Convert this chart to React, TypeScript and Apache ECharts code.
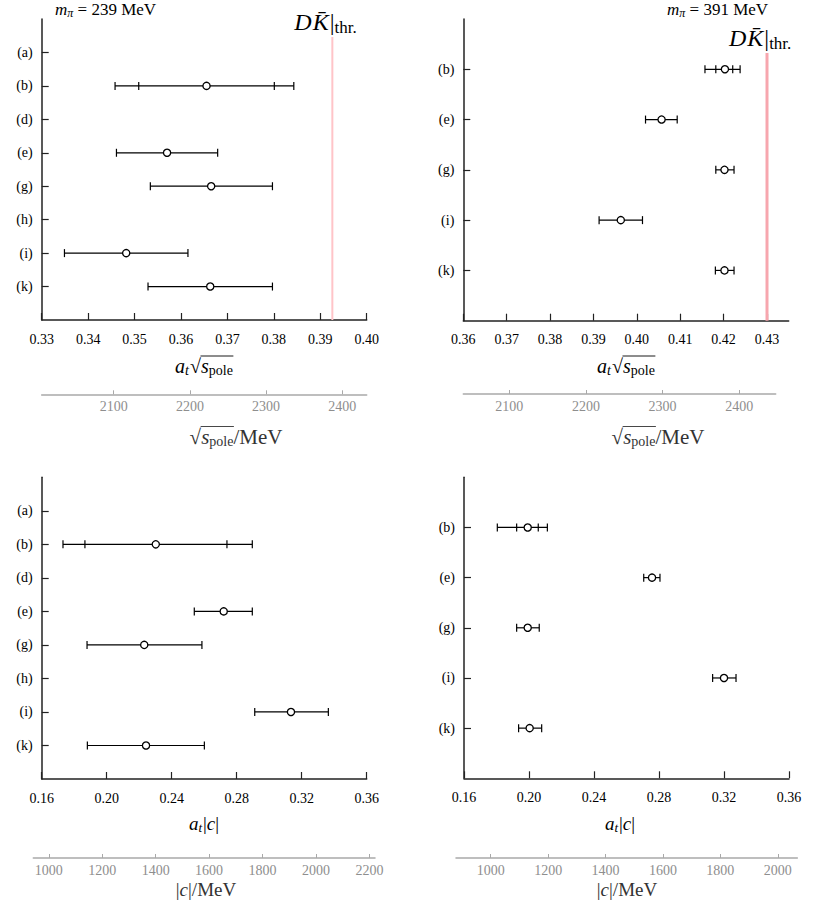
import React, { useEffect, useRef } from 'react';
import * as echarts from 'echarts';

const SERIF = 'Liberation Serif, Times New Roman, serif';

// ---------- categories ----------
const catsL = ['(a)', '(b)', '(d)', '(e)', '(g)', '(h)', '(i)', '(k)'];
const catsR = ['(b)', '(e)', '(g)', '(i)', '(k)'];

// ---------- a_t sqrt(s_pole), m_pi = 239 MeV ----------
const sLab239 = ['(b)', '(e)', '(g)', '(i)', '(k)'];
const sCen239 = [0.3655, 0.357, 0.3665, 0.3482, 0.3663];
const sLo239 = [0.3458, 0.3461, 0.3534, 0.3349, 0.3529];
const sHi239 = [0.3843, 0.3679, 0.3797, 0.3615, 0.3797];
const sStatLab239 = ['(b)'];
const sStatLo239 = [0.3509];
const sStatHi239 = [0.3801];
const thr239 = 0.3926;

// ---------- a_t sqrt(s_pole), m_pi = 391 MeV ----------
const sLab391 = ['(b)', '(e)', '(g)', '(i)', '(k)'];
const sCen391 = [0.4203, 0.4057, 0.4202, 0.3963, 0.4202];
const sLo391 = [0.4157, 0.402, 0.4182, 0.3913, 0.4181];
const sHi391 = [0.4238, 0.4093, 0.4224, 0.4013, 0.4224];
const sStatLab391 = ['(b)'];
const sStatLo391 = [0.4182];
const sStatHi391 = [0.4221];
const thr391 = 0.43;

// ---------- a_t |c|, m_pi = 239 MeV ----------
const cLab239 = ['(b)', '(e)', '(g)', '(i)', '(k)'];
const cCen239 = [0.2302, 0.272, 0.2231, 0.3134, 0.2242];
const cLo239 = [0.1731, 0.2539, 0.1879, 0.2911, 0.1881];
const cHi239 = [0.2896, 0.2896, 0.2586, 0.3364, 0.2601];
const cStatLab239 = ['(b)'];
const cStatLo239 = [0.1866];
const cStatHi239 = [0.274];

// ---------- a_t |c|, m_pi = 391 MeV ----------
const cLab391 = ['(b)', '(e)', '(g)', '(i)', '(k)'];
const cCen391 = [0.1992, 0.2757, 0.1992, 0.32, 0.2004];
const cLo391 = [0.1805, 0.2706, 0.1924, 0.313, 0.1936];
const cHi391 = [0.2113, 0.2806, 0.2063, 0.3274, 0.2078];
const cStatLab391 = ['(b)'];
const cStatLo391 = [0.1924];
const cStatHi391 = [0.2057];

// ---------- axis ticks / ranges ----------
const ticksS239 = [0.33, 0.34, 0.35, 0.36, 0.37, 0.38, 0.39, 0.4];
const ticksS391 = [0.36, 0.37, 0.38, 0.39, 0.4, 0.41, 0.42, 0.43];
const ticksC = [0.16, 0.2, 0.24, 0.28, 0.32, 0.36];
const rangeS239: [number, number] = [0.33, 0.4];
const rangeS391: [number, number] = [0.36, 0.435];
const rangeC: [number, number] = [0.16, 0.36];

const ticksMeVS = [2100, 2200, 2300, 2400];
const ticksMeVC239 = [1000, 1200, 1400, 1600, 1800, 2000, 2200];
const ticksMeVC391 = [1000, 1200, 1400, 1600, 1800, 2000];
const rangeMeVS239: [number, number] = [2005.5, 2432];
const rangeMeVS391: [number, number] = [2040, 2447.5];
const rangeMeVC239: [number, number] = [942, 2221];
const rangeMeVC391: [number, number] = [879, 2068];

// ---------- text measuring / math-like text ----------
let measureCtx: CanvasRenderingContext2D | null = null;
function fontStr(size: number, italic?: boolean) {
  return `${italic ? 'italic ' : ''}${size}px ${SERIF}`;
}
function measure(t: string, size: number, italic?: boolean) {
  if (!measureCtx) measureCtx = document.createElement('canvas').getContext('2d');
  if (!measureCtx) return t.length * size * 0.5;
  measureCtx.font = fontStr(size, italic);
  return measureCtx.measureText(t).width;
}
type Part = { t: string; s: number; i?: boolean; dy?: number; dx?: number; over?: boolean };
function mathEls(parts: Part[], x: number, y: number, align: 'left' | 'center', color: string, overDy = -9) {
  const widths = parts.map((p) => measure(p.t, p.s, p.i) + (p.dx || 0));
  const total = widths.reduce((a, b) => a + b, 0);
  let cur = align === 'center' ? x - total / 2 : x;
  const els: any[] = [];
  let o0: number | null = null;
  let o1 = 0;
  parts.forEach((p, k) => {
    const px = cur + (p.dx || 0);
    els.push({
      type: 'text',
      x: px,
      y: y + (p.dy || 0),
      silent: true,
      style: {
        text: p.t,
        fontSize: p.s,
        fontStyle: p.i ? 'italic' : 'normal',
        fontFamily: SERIF,
        fill: color,
        align: 'left',
        textAlign: 'left',
        verticalAlign: 'middle',
        textVerticalAlign: 'middle',
      },
    });
    if (p.over) {
      if (o0 === null) o0 = px - 0.5;
      o1 = cur + widths[k] + 0.5;
    }
    cur += widths[k];
  });
  if (o0 !== null) {
    els.push({
      type: 'line',
      silent: true,
      shape: { x1: o0, y1: y + overDy, x2: o1, y2: y + overDy },
      style: { stroke: color, lineWidth: 0.9 },
    });
  }
  return els;
}

const partsAtSqrtS: Part[] = [
  { t: 'a', s: 20, i: true },
  { t: 't', s: 14, i: true, dy: 4 },
  { t: '√', s: 20, dx: 1 },
  { t: 's', s: 20, i: true, over: true },
  { t: 'pole', s: 14, dy: 4, over: true },
];
const partsSqrtSMeV: Part[] = [
  { t: '√', s: 21 },
  { t: 's', s: 21, i: true, over: true },
  { t: 'pole', s: 14, dy: 4, over: true },
  { t: '/MeV', s: 21 },
];
const partsAtC: Part[] = [
  { t: 'a', s: 19, i: true },
  { t: 't', s: 13, i: true, dy: 4 },
  { t: '|', s: 19, dx: 1 },
  { t: 'c', s: 19, i: true },
  { t: '|', s: 19 },
];
const partsCMeV: Part[] = [
  { t: '|', s: 19 },
  { t: 'c', s: 19, i: true },
  { t: '|/MeV', s: 19 },
];
const partsMpi = (v: string): Part[] => [
  { t: 'm', s: 17, i: true },
  { t: 'π', s: 12, i: true, dy: 4 },
  { t: ` = ${v} MeV`, s: 17 },
];
const partsDK: Part[] = [
  { t: 'D', s: 24, i: true },
  { t: 'K\u0304', s: 24, i: true, dx: 1 },
  { t: '|', s: 24, dx: 1 },
  { t: 'thr.', s: 17, dy: 5 },
];

// ---------- layout ----------
const primaryGrids = [
  { left: 41.7, top: 19, width: 325, height: 301 },
  { left: 463.3, top: 19, width: 325.4, height: 301.7 },
  { left: 41.7, top: 477.3, width: 325, height: 301.7 },
  { left: 464, top: 477.3, width: 325, height: 301 },
];
const secondaryGrids = [
  { left: 41.7, top: 393.3, width: 325, height: 1 },
  { left: 463.3, top: 393, width: 312.4, height: 1 },
  { left: 33.3, top: 857, width: 341.7, height: 1 },
  { left: 456, top: 857, width: 341.3, height: 1 },
];

const AX = '#222';

function primaryX(gridIndex: number, range: [number, number], ticks: number[], interval?: number) {
  return {
    type: 'value',
    gridIndex,
    min: range[0],
    max: range[1],
    interval,
    position: 'bottom',
    axisLine: { show: true, onZero: false, lineStyle: { color: AX, width: 1.5 } },
    axisTick: { show: true, inside: true, length: 7, customValues: ticks, lineStyle: { color: AX, width: 1.2 } },
    axisLabel: {
      customValues: ticks,
      margin: 12,
      fontSize: 14,
      fontFamily: SERIF,
      color: '#000',
      formatter: (v: number) => v.toFixed(2),
    },
    splitLine: { show: false },
  };
}
function primaryY(gridIndex: number, cats: string[]) {
  return {
    type: 'category',
    gridIndex,
    data: ['', ...cats, ''],
    inverse: true,
    boundaryGap: false,
    axisLine: { show: true, onZero: false, lineStyle: { color: AX, width: 1.5 } },
    axisTick: {
      show: true,
      inside: true,
      length: 7,
      interval: (_i: number, v: string) => v !== '',
      lineStyle: { color: AX, width: 1.2 },
    },
    axisLabel: { interval: 0, margin: 9, fontSize: 14, fontFamily: SERIF, color: '#000' },
    splitLine: { show: false },
  };
}
function secondaryX(gridIndex: number, range: [number, number], ticks: number[]) {
  return {
    type: 'value',
    gridIndex,
    min: range[0],
    max: range[1],
    position: 'bottom',
    axisLine: { show: true, onZero: false, lineStyle: { color: '#a9a9a9', width: 1.5 } },
    axisTick: { show: true, inside: true, length: 4, customValues: ticks, lineStyle: { color: '#a9a9a9', width: 1 } },
    axisLabel: {
      customValues: ticks,
      margin: 5,
      fontSize: 14,
      fontFamily: SERIF,
      color: '#8e8e8e',
      formatter: (v: number) => String(Math.round(v)),
    },
    splitLine: { show: false },
  };
}

const CAP = 4;
function errSeries(k: number, cats: string[], labs: string[], cen: number[], lo: number[], hi: number[]) {
  return {
    type: 'custom',
    xAxisIndex: k,
    yAxisIndex: k,
    encode: { x: [0, 2, 3], y: 1 },
    data: labs.map((l, i) => [cen[i], cats.indexOf(l) + 1, lo[i], hi[i]]),
    z: 5,
    renderItem: (_p: any, api: any) => {
      const c = api.coord([api.value(0), api.value(1)]);
      const l = api.coord([api.value(2), api.value(1)]);
      const h = api.coord([api.value(3), api.value(1)]);
      const st = { stroke: '#000', lineWidth: 1.2 };
      return {
        type: 'group',
        children: [
          { type: 'line', shape: { x1: l[0], y1: c[1], x2: h[0], y2: c[1] }, style: st },
          { type: 'line', shape: { x1: l[0], y1: c[1] - CAP, x2: l[0], y2: c[1] + CAP }, style: st },
          { type: 'line', shape: { x1: h[0], y1: c[1] - CAP, x2: h[0], y2: c[1] + CAP }, style: st },
          { type: 'circle', shape: { cx: c[0], cy: c[1], r: 3.6 }, style: { fill: '#fff', stroke: '#000', lineWidth: 1.3 } },
        ],
      };
    },
  };
}
function statSeries(k: number, cats: string[], labs: string[], lo: number[], hi: number[]) {
  return {
    type: 'custom',
    xAxisIndex: k,
    yAxisIndex: k,
    encode: { x: [0, 1], y: 2 },
    data: labs.map((l, i) => [lo[i], hi[i], cats.indexOf(l) + 1]),
    z: 6,
    renderItem: (_p: any, api: any) => {
      const l = api.coord([api.value(0), api.value(2)]);
      const h = api.coord([api.value(1), api.value(2)]);
      const st = { stroke: '#000', lineWidth: 1.2 };
      return {
        type: 'group',
        children: [
          { type: 'line', shape: { x1: l[0], y1: l[1] - CAP, x2: l[0], y2: l[1] + CAP }, style: st },
          { type: 'line', shape: { x1: h[0], y1: h[1] - CAP, x2: h[0], y2: h[1] + CAP }, style: st },
        ],
      };
    },
  };
}
function thrSeries(k: number, thr: number, topOffset: number, color: string, width: number) {
  return {
    type: 'custom',
    xAxisIndex: k,
    yAxisIndex: k,
    encode: { x: 0, y: 1 },
    data: [[thr, 1]],
    z: 2,
    renderItem: (params: any, api: any) => {
      const p = api.coord([api.value(0), 1]);
      const cs = params.coordSys;
      const top = cs.y + topOffset;
      return {
        type: 'group',
        children: [
          { type: 'line', shape: { x1: p[0], y1: top, x2: p[0], y2: cs.y + cs.height }, style: { stroke: color, lineWidth: width } },
          ...mathEls(partsDK, p[0] - 38, top - 15, 'left', '#000', -12),
        ],
      };
    },
  };
}

function buildOption() {
  const graphic: any[] = [
    { type: 'group', children: mathEls(partsMpi('239'), 55, 9, 'left', '#000') },
    { type: 'group', children: mathEls(partsMpi('391'), 667, 9, 'left', '#000') },
    { type: 'group', children: mathEls(partsAtSqrtS, 204, 366, 'center', '#000', -10) },
    { type: 'group', children: mathEls(partsAtSqrtS, 626, 366, 'center', '#000', -10) },
    { type: 'group', children: mathEls(partsSqrtSMeV, 236, 437, 'center', '#333', -10.5) },
    { type: 'group', children: mathEls(partsSqrtSMeV, 658, 437, 'center', '#333', -10.5) },
    { type: 'group', children: mathEls(partsAtC, 204, 823, 'center', '#000') },
    { type: 'group', children: mathEls(partsAtC, 620, 823, 'center', '#000') },
    { type: 'group', children: mathEls(partsCMeV, 206, 889, 'center', '#333') },
    { type: 'group', children: mathEls(partsCMeV, 627, 889, 'center', '#333') },
  ];

  return {
    animation: false,
    backgroundColor: '#fff',
    textStyle: { fontFamily: SERIF },
    grid: [...primaryGrids, ...secondaryGrids].map((g) => ({ ...g, containLabel: false })),
    xAxis: [
      primaryX(0, rangeS239, ticksS239, 0.01),
      primaryX(1, rangeS391, ticksS391),
      primaryX(2, rangeC, ticksC, 0.04),
      primaryX(3, rangeC, ticksC, 0.04),
      secondaryX(4, rangeMeVS239, ticksMeVS),
      secondaryX(5, rangeMeVS391, ticksMeVS),
      secondaryX(6, rangeMeVC239, ticksMeVC239),
      secondaryX(7, rangeMeVC391, ticksMeVC391),
    ],
    yAxis: [
      primaryY(0, catsL),
      primaryY(1, catsR),
      primaryY(2, catsL),
      primaryY(3, catsR),
      { type: 'value', gridIndex: 4, show: false },
      { type: 'value', gridIndex: 5, show: false },
      { type: 'value', gridIndex: 6, show: false },
      { type: 'value', gridIndex: 7, show: false },
    ],
    series: [
      thrSeries(0, thr239, 18, '#ffc4c8', 2),
      thrSeries(1, thr391, 34, '#f7a6ae', 3),
      errSeries(0, catsL, sLab239, sCen239, sLo239, sHi239),
      statSeries(0, catsL, sStatLab239, sStatLo239, sStatHi239),
      errSeries(1, catsR, sLab391, sCen391, sLo391, sHi391),
      statSeries(1, catsR, sStatLab391, sStatLo391, sStatHi391),
      errSeries(2, catsL, cLab239, cCen239, cLo239, cHi239),
      statSeries(2, catsL, cStatLab239, cStatLo239, cStatHi239),
      errSeries(3, catsR, cLab391, cCen391, cLo391, cHi391),
      statSeries(3, catsR, cStatLab391, cStatLo391, cStatHi391),
    ],
    graphic,
  };
}

export default function App() {
  const ref = useRef<HTMLDivElement>(null);
  useEffect(() => {
    document.body.style.margin = '0';
    const chart = echarts.init(ref.current!, null, { renderer: 'svg' });
    chart.setOption(buildOption() as any);
    return () => chart.dispose();
  }, []);
  return <div ref={ref} style={{ width: 822, height: 901, background: '#fff' }} />;
}
